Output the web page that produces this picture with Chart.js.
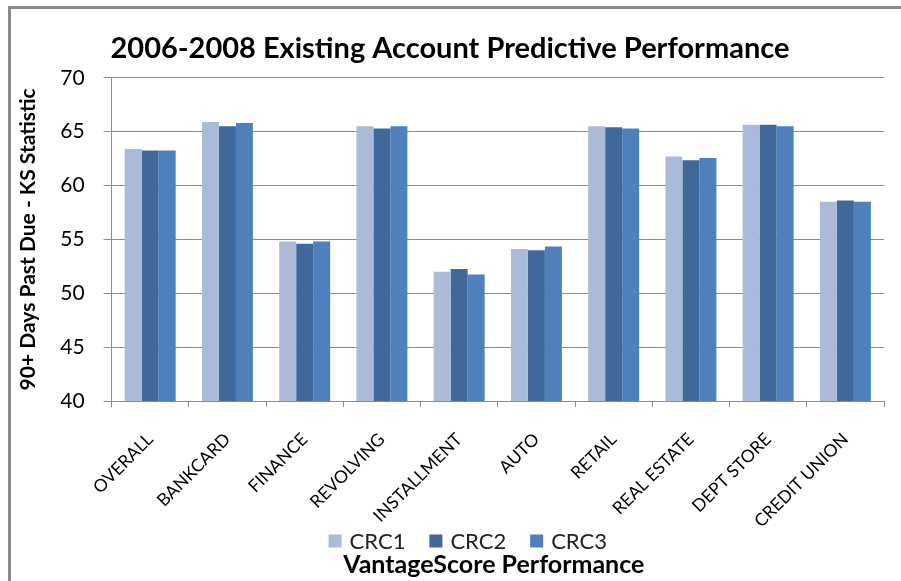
<!DOCTYPE html>
<html>
<head>
<meta charset="utf-8">
<script src="https://cdn.jsdelivr.net/npm/chart.js@4"></script>
<style>
  html, body { margin: 0; padding: 0; background: #fff; }
  #quadro {
    position: absolute; left: 8px; top: 6px; width: 893px; height: 575px;
    border-left: 3px solid #8a8a8a; border-top: 3px solid #8a8a8a;
    box-sizing: border-box;
  }
  #grafico { display: block; }
</style>
</head>
<body>
<div id="quadro"><canvas id="grafico" width="890" height="572"></canvas></div>
<script>
const categorias = ["OVERALL", "BANKCARD", "FINANCE", "REVOLVING", "INSTALLMENT", "AUTO", "RETAIL", "REAL ESTATE", "DEPT STORE", "CREDIT UNION"];
const crc1 = [63.4, 65.9, 54.8, 65.5, 52.0, 54.1, 65.5, 62.7, 65.65, 58.5];
const crc2 = [63.25, 65.5, 54.6, 65.3, 52.25, 54.0, 65.4, 62.35, 65.65, 58.6];
const crc3 = [63.25, 65.8, 54.8, 65.5, 51.75, 54.35, 65.3, 62.55, 65.5, 58.5];
const yTicks = [40, 45, 50, 55, 60, 65, 70];

const fonte = "Lato, 'Open Sans', sans-serif";
const cinza = "#8c8c8c";

// legenda e titulo do eixo x desenhados embaixo, na ordem do Excel
const rodape = {
    id: "rodape",
    afterDraw(chart) {
        const { ctx, chartArea } = chart;
        const centro = (chartArea.left + chartArea.right) / 2;
        ctx.save();

        // legenda
        ctx.font = "22px " + fonte;
        ctx.textBaseline = "middle";
        ctx.textAlign = "left";
        const itens = chart.data.datasets.map(ds => ({ texto: ds.label, cor: ds.backgroundColor, w: ctx.measureText(ds.label).width }));
        const total = itens.reduce((s, it) => s + 13 + 8 + it.w, 0) + 24 * (itens.length - 1);
        let x = centro - 30 - total / 2;
        const y = 532;
        itens.forEach(it => {
            ctx.fillStyle = it.cor;
            ctx.fillRect(x, y - 6.5, 13, 13);
            ctx.fillStyle = "#222";
            ctx.fillText(it.texto, x + 21, y + 1);
            x += 21 + it.w + 24;
        });

        // titulo do eixo
        ctx.font = "bold 25px " + fonte;
        ctx.fillStyle = "#000";
        ctx.textAlign = "center";
        ctx.fillText("VantageScore Performance", centro - 4, chart.height - 16);
        ctx.restore();
    }
};

const ctx = document.getElementById("grafico").getContext("2d");

new Chart(ctx, {
    type: "bar",
    data: {
        labels: categorias,
        datasets: [
            { label: "CRC1", data: crc1, backgroundColor: "#aabad8" },
            { label: "CRC2", data: crc2, backgroundColor: "#3f699b" },
            { label: "CRC3", data: crc3, backgroundColor: "#4f80bc" }
        ]
    },
    options: {
        responsive: false,
        animation: false,
        layout: { padding: { left: 5, right: 17, top: 22, bottom: 54 } },
        datasets: {
            bar: { categoryPercentage: 0.66, barPercentage: 1.0 }
        },
        plugins: {
            title: {
                display: true,
                text: "2006-2008 Existing Account Predictive Performance",
                color: "#000",
                font: { family: fonte, size: 29, weight: "bold" },
                padding: { top: 0, bottom: 12 }
            },
            legend: { display: false },
            tooltip: { enabled: false }
        },
        scales: {
            x: {
                afterFit: scale => { scale.height = 126; },
                grid: {
                    offset: true,
                    drawOnChartArea: false,
                    drawTicks: true,
                    tickLength: 6,
                    color: cinza
                },
                border: { color: cinza, width: 1 },
                ticks: {
                    color: "#000",
                    font: { family: fonte, size: 17.5 },
                    minRotation: 45,
                    maxRotation: 45,
                    autoSkip: false,
                    padding: 22
                }
            },
            y: {
                min: 40,
                max: 70,
                afterBuildTicks: axis => {
                    axis.ticks = yTicks.map(v => ({ value: v }));
                },
                grid: {
                    color: cinza,
                    tickLength: 8
                },
                border: { color: cinza, width: 1 },
                ticks: {
                    color: "#000",
                    font: { family: fonte, size: 21 },
                    padding: 19
                },
                title: {
                    display: true,
                    text: "90+ Days Past Due - KS Statistic",
                    color: "#000",
                    font: { family: fonte, size: 21, weight: "bold" },
                    padding: { top: 0, bottom: 0 }
                }
            }
        }
    },
    plugins: [rodape]
});
</script>
</body>
</html>
